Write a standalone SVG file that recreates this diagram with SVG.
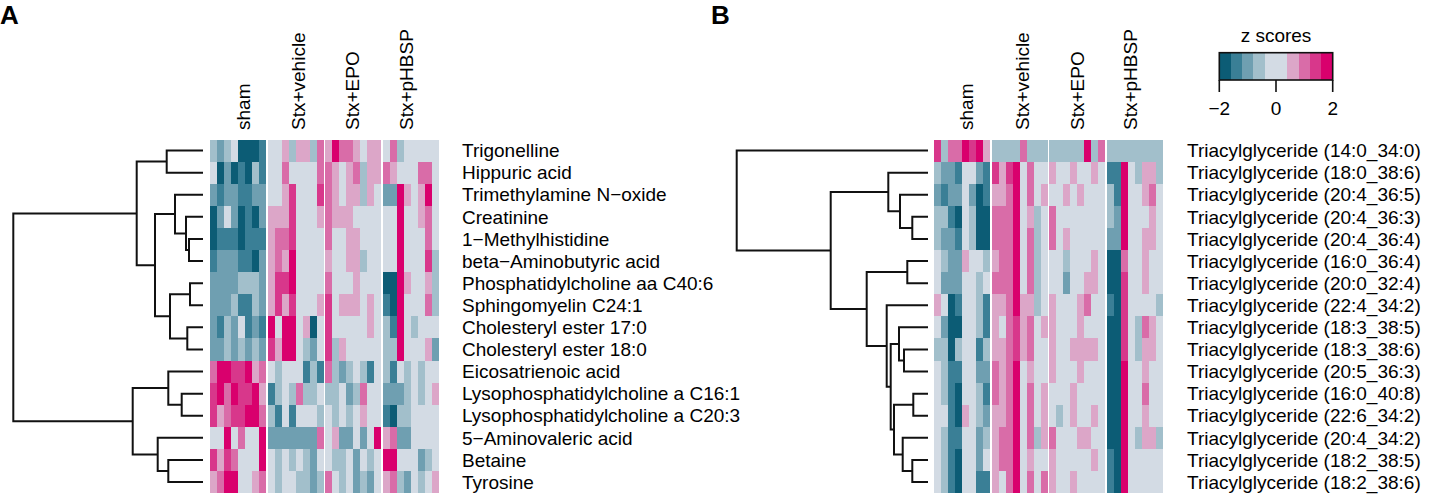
<svg xmlns="http://www.w3.org/2000/svg" width="1430" height="496" viewBox="0 0 1430 496">
<style>
text{font-family:"Liberation Sans",Arial,sans-serif;font-size:19px;fill:#000}
.pl{font-weight:bold;font-size:26px}
.h rect{shape-rendering:crispEdges}
.c1{fill:#0c5c75}.c2{fill:#3a7f96}.c3{fill:#6f9fb1}.c4{fill:#a2bfcb}.c5{fill:#d3dbe4}
.c6{fill:#dca6c8}.c7{fill:#d96ca8}.c8{fill:#d8378b}.c9{fill:#d9006d}
.dd path{fill:none;stroke:#111;stroke-width:2}
</style>
<rect width="1430" height="496" fill="#fff"/>
<text class="pl" x="0" y="24">A</text>
<text class="pl" x="711" y="24">B</text>

<g id="heatmap-A" class="h">
<g id="A-sham" transform="translate(210,139.5)">
<rect width="56" height="353.6" class="c5"/>
<rect x="0" y="0" width="7" height="22.1" class="c4"/><rect x="7" y="0" width="7" height="22.1" class="c3"/><rect x="14" y="0" width="7" height="22.1" class="c4"/><rect x="28" y="0" width="21" height="22.1" class="c1"/><rect x="49" y="0" width="7" height="22.1" class="c2"/>
<rect x="7" y="22.1" width="7" height="22.1" class="c1"/><rect x="14" y="22.1" width="7" height="22.1" class="c3"/><rect x="21" y="22.1" width="7" height="22.1" class="c1"/><rect x="28" y="22.1" width="7" height="22.1" class="c2"/><rect x="35" y="22.1" width="7" height="22.1" class="c1"/><rect x="42" y="22.1" width="7" height="22.1" class="c4"/><rect x="49" y="22.1" width="7" height="22.1" class="c2"/>
<rect x="0" y="44.2" width="7" height="22.1" class="c3"/><rect x="7" y="44.2" width="7" height="22.1" class="c2"/><rect x="14" y="44.2" width="14" height="22.1" class="c3"/><rect x="28" y="44.2" width="14" height="22.1" class="c2"/><rect x="42" y="44.2" width="14" height="22.1" class="c3"/>
<rect x="0" y="66.3" width="7" height="22.1" class="c1"/><rect x="7" y="66.3" width="7" height="22.1" class="c3"/><rect x="21" y="66.3" width="7" height="22.1" class="c3"/><rect x="28" y="66.3" width="7" height="22.1" class="c1"/><rect x="35" y="66.3" width="7" height="22.1" class="c2"/><rect x="42" y="66.3" width="7" height="22.1" class="c1"/><rect x="49" y="66.3" width="7" height="22.1" class="c3"/>
<rect x="0" y="88.4" width="7" height="22.1" class="c1"/><rect x="7" y="88.4" width="21" height="22.1" class="c2"/><rect x="28" y="88.4" width="7" height="22.1" class="c1"/><rect x="35" y="88.4" width="21" height="22.1" class="c2"/>
<rect x="0" y="110.5" width="7" height="22.1" class="c2"/><rect x="7" y="110.5" width="21" height="22.1" class="c3"/><rect x="28" y="110.5" width="14" height="22.1" class="c2"/><rect x="42" y="110.5" width="7" height="22.1" class="c1"/><rect x="49" y="110.5" width="7" height="22.1" class="c3"/>
<rect x="0" y="132.6" width="28" height="22.1" class="c3"/><rect x="28" y="132.6" width="21" height="22.1" class="c4"/><rect x="49" y="132.6" width="7" height="22.1" class="c3"/>
<rect x="0" y="154.7" width="21" height="22.1" class="c3"/><rect x="21" y="154.7" width="7" height="22.1" class="c4"/><rect x="28" y="154.7" width="14" height="22.1" class="c2"/><rect x="42" y="154.7" width="7" height="22.1" class="c4"/><rect x="49" y="154.7" width="7" height="22.1" class="c3"/>
<rect x="0" y="176.8" width="7" height="22.1" class="c3"/><rect x="7" y="176.8" width="7" height="22.1" class="c2"/><rect x="14" y="176.8" width="7" height="22.1" class="c4"/><rect x="21" y="176.8" width="7" height="22.1" class="c3"/><rect x="35" y="176.8" width="7" height="22.1" class="c2"/><rect x="42" y="176.8" width="7" height="22.1" class="c3"/><rect x="49" y="176.8" width="7" height="22.1" class="c2"/>
<rect x="0" y="198.9" width="14" height="22.1" class="c3"/><rect x="14" y="198.9" width="7" height="22.1" class="c4"/><rect x="21" y="198.9" width="7" height="22.1" class="c3"/><rect x="28" y="198.9" width="7" height="22.1" class="c4"/><rect x="35" y="198.9" width="7" height="22.1" class="c3"/><rect x="42" y="198.9" width="7" height="22.1" class="c4"/><rect x="49" y="198.9" width="7" height="22.1" class="c3"/>
<rect x="0" y="221" width="7" height="22.1" class="c7"/><rect x="7" y="221" width="14" height="22.1" class="c9"/><rect x="21" y="221" width="14" height="22.1" class="c8"/><rect x="35" y="221" width="7" height="22.1" class="c9"/><rect x="42" y="221" width="7" height="22.1" class="c6"/><rect x="49" y="221" width="7" height="22.1" class="c7"/>
<rect x="0" y="243.1" width="7" height="22.1" class="c8"/><rect x="7" y="243.1" width="7" height="22.1" class="c9"/><rect x="14" y="243.1" width="7" height="22.1" class="c7"/><rect x="21" y="243.1" width="7" height="22.1" class="c9"/><rect x="28" y="243.1" width="14" height="22.1" class="c8"/><rect x="42" y="243.1" width="7" height="22.1" class="c9"/><rect x="49" y="243.1" width="7" height="22.1" class="c6"/>
<rect x="0" y="265.2" width="7" height="22.1" class="c8"/><rect x="7" y="265.2" width="7" height="22.1" class="c6"/><rect x="14" y="265.2" width="7" height="22.1" class="c7"/><rect x="21" y="265.2" width="14" height="22.1" class="c8"/><rect x="35" y="265.2" width="14" height="22.1" class="c9"/><rect x="49" y="265.2" width="7" height="22.1" class="c7"/>
<rect x="14" y="287.3" width="7" height="22.1" class="c9"/><rect x="28" y="287.3" width="7" height="22.1" class="c7"/><rect x="49" y="287.3" width="7" height="22.1" class="c9"/>
<rect x="0" y="309.4" width="7" height="22.1" class="c8"/><rect x="7" y="309.4" width="7" height="22.1" class="c6"/><rect x="14" y="309.4" width="7" height="22.1" class="c8"/><rect x="21" y="309.4" width="7" height="22.1" class="c7"/><rect x="49" y="309.4" width="7" height="22.1" class="c9"/>
<rect x="0" y="331.5" width="7" height="22.1" class="c6"/><rect x="7" y="331.5" width="7" height="22.1" class="c7"/><rect x="14" y="331.5" width="14" height="22.1" class="c9"/><rect x="42" y="331.5" width="7" height="22.1" class="c6"/><rect x="49" y="331.5" width="7" height="22.1" class="c7"/>
</g>
<g id="A-vehicle" transform="translate(267.7,139.5)">
<rect width="56" height="353.6" class="c5"/>
<rect x="14" y="0" width="7" height="22.1" class="c6"/><rect x="21" y="0" width="7" height="22.1" class="c4"/><rect x="28" y="0" width="14" height="22.1" class="c6"/><rect x="42" y="0" width="7" height="22.1" class="c4"/><rect x="49" y="0" width="7" height="22.1" class="c7"/>
<rect x="14" y="22.1" width="7" height="22.1" class="c7"/><rect x="49" y="22.1" width="7" height="22.1" class="c7"/>
<rect x="14" y="44.2" width="7" height="22.1" class="c6"/><rect x="21" y="44.2" width="7" height="22.1" class="c8"/><rect x="49" y="44.2" width="7" height="22.1" class="c8"/>
<rect x="0" y="66.3" width="21" height="22.1" class="c6"/><rect x="21" y="66.3" width="7" height="22.1" class="c8"/><rect x="49" y="66.3" width="7" height="22.1" class="c6"/>
<rect x="0" y="88.4" width="7" height="22.1" class="c6"/><rect x="7" y="88.4" width="14" height="22.1" class="c7"/><rect x="21" y="88.4" width="7" height="22.1" class="c8"/>
<rect x="0" y="110.5" width="7" height="22.1" class="c6"/><rect x="7" y="110.5" width="7" height="22.1" class="c7"/><rect x="14" y="110.5" width="7" height="22.1" class="c6"/><rect x="21" y="110.5" width="7" height="22.1" class="c9"/>
<rect x="0" y="132.6" width="7" height="22.1" class="c6"/><rect x="7" y="132.6" width="14" height="22.1" class="c8"/><rect x="21" y="132.6" width="7" height="22.1" class="c9"/>
<rect x="0" y="154.7" width="7" height="22.1" class="c6"/><rect x="7" y="154.7" width="7" height="22.1" class="c8"/><rect x="14" y="154.7" width="7" height="22.1" class="c6"/><rect x="21" y="154.7" width="7" height="22.1" class="c8"/><rect x="49" y="154.7" width="7" height="22.1" class="c6"/>
<rect x="0" y="176.8" width="7" height="22.1" class="c9"/><rect x="14" y="176.8" width="14" height="22.1" class="c9"/><rect x="35" y="176.8" width="7" height="22.1" class="c6"/><rect x="42" y="176.8" width="7" height="22.1" class="c1"/>
<rect x="0" y="198.9" width="7" height="22.1" class="c8"/><rect x="7" y="198.9" width="7" height="22.1" class="c6"/><rect x="14" y="198.9" width="14" height="22.1" class="c9"/><rect x="35" y="198.9" width="7" height="22.1" class="c4"/><rect x="42" y="198.9" width="7" height="22.1" class="c3"/>
<rect x="7" y="221" width="7" height="22.1" class="c4"/><rect x="35" y="221" width="7" height="22.1" class="c2"/><rect x="42" y="221" width="7" height="22.1" class="c4"/><rect x="49" y="221" width="7" height="22.1" class="c2"/>
<rect x="0" y="243.1" width="7" height="22.1" class="c2"/><rect x="7" y="243.1" width="7" height="22.1" class="c4"/><rect x="21" y="243.1" width="7" height="22.1" class="c4"/><rect x="28" y="243.1" width="7" height="22.1" class="c7"/><rect x="35" y="243.1" width="14" height="22.1" class="c4"/>
<rect x="0" y="265.2" width="7" height="22.1" class="c4"/><rect x="7" y="265.2" width="7" height="22.1" class="c2"/><rect x="21" y="265.2" width="7" height="22.1" class="c2"/><rect x="49" y="265.2" width="7" height="22.1" class="c4"/>
<rect x="0" y="287.3" width="49" height="22.1" class="c3"/><rect x="49" y="287.3" width="7" height="22.1" class="c7"/>
<rect x="7" y="309.4" width="7" height="22.1" class="c4"/><rect x="21" y="309.4" width="7" height="22.1" class="c4"/><rect x="35" y="309.4" width="7" height="22.1" class="c4"/><rect x="42" y="309.4" width="7" height="22.1" class="c3"/>
<rect x="7" y="331.5" width="7" height="22.1" class="c4"/><rect x="28" y="331.5" width="14" height="22.1" class="c4"/><rect x="42" y="331.5" width="7" height="22.1" class="c3"/><rect x="49" y="331.5" width="7" height="22.1" class="c4"/>
</g>
<g id="A-EPO" transform="translate(325.4,139.5)">
<rect width="56" height="353.6" class="c5"/>
<rect x="0" y="0" width="7" height="22.1" class="c6"/><rect x="7" y="0" width="7" height="22.1" class="c9"/><rect x="14" y="0" width="14" height="22.1" class="c7"/><rect x="28" y="0" width="7" height="22.1" class="c6"/><rect x="42" y="0" width="14" height="22.1" class="c6"/>
<rect x="0" y="22.1" width="7" height="22.1" class="c7"/><rect x="7" y="22.1" width="7" height="22.1" class="c6"/><rect x="21" y="22.1" width="7" height="22.1" class="c6"/><rect x="28" y="22.1" width="7" height="22.1" class="c7"/><rect x="35" y="22.1" width="7" height="22.1" class="c4"/><rect x="42" y="22.1" width="14" height="22.1" class="c6"/>
<rect x="0" y="44.2" width="7" height="22.1" class="c7"/><rect x="7" y="44.2" width="7" height="22.1" class="c6"/><rect x="21" y="44.2" width="14" height="22.1" class="c6"/><rect x="35" y="44.2" width="7" height="22.1" class="c4"/><rect x="42" y="44.2" width="7" height="22.1" class="c6"/>
<rect x="0" y="66.3" width="7" height="22.1" class="c7"/><rect x="7" y="66.3" width="21" height="22.1" class="c6"/>
<rect x="0" y="88.4" width="7" height="22.1" class="c7"/><rect x="21" y="88.4" width="14" height="22.1" class="c6"/>
<rect x="0" y="110.5" width="7" height="22.1" class="c6"/><rect x="21" y="110.5" width="14" height="22.1" class="c6"/><rect x="35" y="110.5" width="7" height="22.1" class="c4"/>
<rect x="0" y="132.6" width="7" height="22.1" class="c7"/><rect x="28" y="132.6" width="7" height="22.1" class="c6"/>
<rect x="0" y="154.7" width="7" height="22.1" class="c8"/><rect x="14" y="154.7" width="21" height="22.1" class="c6"/><rect x="42" y="154.7" width="7" height="22.1" class="c6"/>
<rect x="0" y="176.8" width="7" height="22.1" class="c8"/><rect x="42" y="176.8" width="7" height="22.1" class="c6"/>
<rect x="0" y="198.9" width="7" height="22.1" class="c8"/><rect x="7" y="198.9" width="7" height="22.1" class="c4"/><rect x="14" y="198.9" width="7" height="22.1" class="c6"/>
<rect x="0" y="221" width="7" height="22.1" class="c7"/><rect x="7" y="221" width="7" height="22.1" class="c4"/><rect x="14" y="221" width="7" height="22.1" class="c3"/><rect x="21" y="221" width="7" height="22.1" class="c4"/><rect x="35" y="221" width="7" height="22.1" class="c4"/><rect x="42" y="221" width="7" height="22.1" class="c2"/>
<rect x="0" y="243.1" width="14" height="22.1" class="c4"/><rect x="21" y="243.1" width="7" height="22.1" class="c3"/><rect x="28" y="243.1" width="7" height="22.1" class="c4"/><rect x="35" y="243.1" width="7" height="22.1" class="c7"/>
<rect x="7" y="265.2" width="7" height="22.1" class="c4"/><rect x="21" y="265.2" width="7" height="22.1" class="c4"/><rect x="35" y="265.2" width="7" height="22.1" class="c6"/>
<rect x="7" y="287.3" width="7" height="22.1" class="c6"/><rect x="14" y="287.3" width="14" height="22.1" class="c3"/><rect x="35" y="287.3" width="7" height="22.1" class="c3"/><rect x="49" y="287.3" width="7" height="22.1" class="c9"/>
<rect x="7" y="309.4" width="14" height="22.1" class="c4"/><rect x="28" y="309.4" width="7" height="22.1" class="c3"/><rect x="42" y="309.4" width="7" height="22.1" class="c4"/>
<rect x="0" y="331.5" width="7" height="22.1" class="c7"/><rect x="14" y="331.5" width="7" height="22.1" class="c4"/><rect x="28" y="331.5" width="7" height="22.1" class="c3"/><rect x="35" y="331.5" width="7" height="22.1" class="c4"/><rect x="42" y="331.5" width="7" height="22.1" class="c3"/>
</g>
<g id="A-pHBSP" transform="translate(383.1,139.5)">
<rect width="56" height="353.6" class="c5"/>
<rect x="7" y="0" width="7" height="22.1" class="c7"/><rect x="14" y="0" width="7" height="22.1" class="c4"/>
<rect x="0" y="22.1" width="7" height="22.1" class="c7"/><rect x="7" y="22.1" width="7" height="22.1" class="c6"/><rect x="35" y="22.1" width="14" height="22.1" class="c7"/>
<rect x="0" y="44.2" width="14" height="22.1" class="c3"/><rect x="14" y="44.2" width="7" height="22.1" class="c9"/><rect x="21" y="44.2" width="7" height="22.1" class="c6"/><rect x="35" y="44.2" width="7" height="22.1" class="c6"/><rect x="42" y="44.2" width="7" height="22.1" class="c9"/>
<rect x="14" y="66.3" width="7" height="22.1" class="c9"/><rect x="35" y="66.3" width="7" height="22.1" class="c6"/><rect x="42" y="66.3" width="7" height="22.1" class="c7"/>
<rect x="14" y="88.4" width="7" height="22.1" class="c9"/><rect x="42" y="88.4" width="7" height="22.1" class="c7"/>
<rect x="14" y="110.5" width="7" height="22.1" class="c9"/><rect x="42" y="110.5" width="7" height="22.1" class="c8"/><rect x="49" y="110.5" width="7" height="22.1" class="c4"/>
<rect x="0" y="132.6" width="14" height="22.1" class="c1"/><rect x="14" y="132.6" width="7" height="22.1" class="c9"/><rect x="21" y="132.6" width="7" height="22.1" class="c6"/><rect x="42" y="132.6" width="7" height="22.1" class="c6"/><rect x="49" y="132.6" width="7" height="22.1" class="c4"/>
<rect x="0" y="154.7" width="7" height="22.1" class="c2"/><rect x="7" y="154.7" width="7" height="22.1" class="c1"/><rect x="14" y="154.7" width="7" height="22.1" class="c9"/><rect x="42" y="154.7" width="7" height="22.1" class="c7"/><rect x="49" y="154.7" width="7" height="22.1" class="c4"/>
<rect x="0" y="176.8" width="7" height="22.1" class="c4"/><rect x="7" y="176.8" width="7" height="22.1" class="c2"/><rect x="14" y="176.8" width="7" height="22.1" class="c9"/><rect x="28" y="176.8" width="7" height="22.1" class="c4"/>
<rect x="0" y="198.9" width="14" height="22.1" class="c4"/><rect x="14" y="198.9" width="7" height="22.1" class="c9"/><rect x="42" y="198.9" width="7" height="22.1" class="c6"/><rect x="49" y="198.9" width="7" height="22.1" class="c3"/>
<rect x="0" y="221" width="7" height="22.1" class="c4"/><rect x="7" y="221" width="7" height="22.1" class="c2"/><rect x="21" y="221" width="7" height="22.1" class="c4"/><rect x="35" y="221" width="7" height="22.1" class="c4"/>
<rect x="0" y="243.1" width="21" height="22.1" class="c3"/><rect x="21" y="243.1" width="7" height="22.1" class="c4"/><rect x="35" y="243.1" width="7" height="22.1" class="c4"/><rect x="49" y="243.1" width="7" height="22.1" class="c6"/>
<rect x="0" y="265.2" width="7" height="22.1" class="c2"/><rect x="7" y="265.2" width="7" height="22.1" class="c1"/><rect x="14" y="265.2" width="14" height="22.1" class="c4"/>
<rect x="0" y="287.3" width="7" height="22.1" class="c6"/><rect x="7" y="287.3" width="7" height="22.1" class="c7"/><rect x="14" y="287.3" width="14" height="22.1" class="c3"/>
<rect x="0" y="309.4" width="14" height="22.1" class="c9"/><rect x="35" y="309.4" width="7" height="22.1" class="c3"/><rect x="42" y="309.4" width="7" height="22.1" class="c4"/>
<rect x="0" y="331.5" width="7" height="22.1" class="c6"/><rect x="7" y="331.5" width="7" height="22.1" class="c7"/><rect x="14" y="331.5" width="7" height="22.1" class="c4"/><rect x="21" y="331.5" width="7" height="22.1" class="c3"/><rect x="35" y="331.5" width="7" height="22.1" class="c4"/><rect x="49" y="331.5" width="7" height="22.1" class="c6"/>
</g>
</g>

<g id="heatmap-B" class="h">
<g id="B-sham" transform="translate(934,139.5)">
<rect width="56" height="353.6" class="c5"/>
<rect x="0" y="0" width="7" height="22.1" class="c8"/><rect x="7" y="0" width="7" height="22.1" class="c4"/><rect x="14" y="0" width="14" height="22.1" class="c7"/><rect x="28" y="0" width="7" height="22.1" class="c9"/><rect x="35" y="0" width="7" height="22.1" class="c8"/><rect x="42" y="0" width="7" height="22.1" class="c9"/><rect x="49" y="0" width="7" height="22.1" class="c6"/>
<rect x="0" y="22.1" width="7" height="22.1" class="c4"/><rect x="7" y="22.1" width="14" height="22.1" class="c3"/><rect x="21" y="22.1" width="7" height="22.1" class="c2"/><rect x="42" y="22.1" width="7" height="22.1" class="c3"/><rect x="49" y="22.1" width="7" height="22.1" class="c2"/>
<rect x="0" y="44.2" width="7" height="22.1" class="c3"/><rect x="7" y="44.2" width="7" height="22.1" class="c2"/><rect x="14" y="44.2" width="14" height="22.1" class="c3"/><rect x="35" y="44.2" width="7" height="22.1" class="c3"/><rect x="42" y="44.2" width="7" height="22.1" class="c1"/><rect x="49" y="44.2" width="7" height="22.1" class="c2"/>
<rect x="0" y="66.3" width="14" height="22.1" class="c4"/><rect x="14" y="66.3" width="7" height="22.1" class="c2"/><rect x="21" y="66.3" width="7" height="22.1" class="c1"/><rect x="35" y="66.3" width="7" height="22.1" class="c4"/><rect x="42" y="66.3" width="14" height="22.1" class="c1"/>
<rect x="0" y="88.4" width="7" height="22.1" class="c4"/><rect x="7" y="88.4" width="14" height="22.1" class="c3"/><rect x="21" y="88.4" width="7" height="22.1" class="c2"/><rect x="35" y="88.4" width="7" height="22.1" class="c4"/><rect x="42" y="88.4" width="14" height="22.1" class="c1"/>
<rect x="7" y="110.5" width="7" height="22.1" class="c4"/><rect x="14" y="110.5" width="14" height="22.1" class="c3"/><rect x="28" y="110.5" width="7" height="22.1" class="c6"/><rect x="49" y="110.5" width="7" height="22.1" class="c4"/>
<rect x="7" y="132.6" width="21" height="22.1" class="c3"/><rect x="42" y="132.6" width="7" height="22.1" class="c4"/>
<rect x="0" y="154.7" width="7" height="22.1" class="c6"/><rect x="14" y="154.7" width="7" height="22.1" class="c1"/><rect x="21" y="154.7" width="7" height="22.1" class="c2"/><rect x="42" y="154.7" width="7" height="22.1" class="c4"/><rect x="49" y="154.7" width="7" height="22.1" class="c2"/>
<rect x="7" y="176.8" width="7" height="22.1" class="c3"/><rect x="14" y="176.8" width="14" height="22.1" class="c1"/><rect x="42" y="176.8" width="7" height="22.1" class="c4"/><rect x="49" y="176.8" width="7" height="22.1" class="c2"/>
<rect x="0" y="198.9" width="14" height="22.1" class="c4"/><rect x="14" y="198.9" width="7" height="22.1" class="c1"/><rect x="21" y="198.9" width="7" height="22.1" class="c4"/><rect x="42" y="198.9" width="7" height="22.1" class="c2"/><rect x="49" y="198.9" width="7" height="22.1" class="c4"/>
<rect x="7" y="221" width="7" height="22.1" class="c4"/><rect x="14" y="221" width="14" height="22.1" class="c2"/><rect x="42" y="221" width="14" height="22.1" class="c3"/>
<rect x="7" y="243.1" width="7" height="22.1" class="c4"/><rect x="14" y="243.1" width="7" height="22.1" class="c2"/><rect x="21" y="243.1" width="7" height="22.1" class="c1"/><rect x="42" y="243.1" width="7" height="22.1" class="c4"/><rect x="49" y="243.1" width="7" height="22.1" class="c2"/>
<rect x="14" y="265.2" width="7" height="22.1" class="c2"/><rect x="21" y="265.2" width="7" height="22.1" class="c1"/><rect x="28" y="265.2" width="7" height="22.1" class="c6"/><rect x="42" y="265.2" width="7" height="22.1" class="c4"/><rect x="49" y="265.2" width="7" height="22.1" class="c3"/>
<rect x="7" y="287.3" width="7" height="22.1" class="c4"/><rect x="14" y="287.3" width="14" height="22.1" class="c2"/><rect x="42" y="287.3" width="7" height="22.1" class="c3"/><rect x="49" y="287.3" width="7" height="22.1" class="c4"/>
<rect x="7" y="309.4" width="7" height="22.1" class="c4"/><rect x="14" y="309.4" width="7" height="22.1" class="c2"/><rect x="21" y="309.4" width="7" height="22.1" class="c1"/><rect x="42" y="309.4" width="7" height="22.1" class="c3"/>
<rect x="7" y="331.5" width="7" height="22.1" class="c4"/><rect x="14" y="331.5" width="7" height="22.1" class="c2"/><rect x="21" y="331.5" width="7" height="22.1" class="c1"/><rect x="42" y="331.5" width="14" height="22.1" class="c2"/>
</g>
<g id="B-vehicle" transform="translate(991.6,139.5)">
<rect width="56" height="353.6" class="c5"/>
<rect x="0" y="0" width="28" height="22.1" class="c4"/><rect x="28" y="0" width="7" height="22.1" class="c7"/><rect x="35" y="0" width="21" height="22.1" class="c4"/>
<rect x="0" y="22.1" width="7" height="22.1" class="c8"/><rect x="7" y="22.1" width="7" height="22.1" class="c6"/><rect x="14" y="22.1" width="7" height="22.1" class="c8"/><rect x="21" y="22.1" width="7" height="22.1" class="c9"/><rect x="35" y="22.1" width="7" height="22.1" class="c7"/>
<rect x="0" y="44.2" width="14" height="22.1" class="c6"/><rect x="14" y="44.2" width="7" height="22.1" class="c7"/><rect x="21" y="44.2" width="7" height="22.1" class="c9"/><rect x="35" y="44.2" width="7" height="22.1" class="c7"/><rect x="49" y="44.2" width="7" height="22.1" class="c6"/>
<rect x="0" y="66.3" width="21" height="22.1" class="c7"/><rect x="21" y="66.3" width="7" height="22.1" class="c9"/><rect x="35" y="66.3" width="7" height="22.1" class="c6"/><rect x="42" y="66.3" width="7" height="22.1" class="c4"/>
<rect x="0" y="88.4" width="21" height="22.1" class="c7"/><rect x="21" y="88.4" width="7" height="22.1" class="c9"/><rect x="35" y="88.4" width="7" height="22.1" class="c7"/><rect x="42" y="88.4" width="7" height="22.1" class="c4"/>
<rect x="0" y="110.5" width="7" height="22.1" class="c6"/><rect x="7" y="110.5" width="14" height="22.1" class="c7"/><rect x="21" y="110.5" width="7" height="22.1" class="c9"/><rect x="35" y="110.5" width="7" height="22.1" class="c7"/><rect x="42" y="110.5" width="7" height="22.1" class="c4"/>
<rect x="0" y="132.6" width="21" height="22.1" class="c7"/><rect x="21" y="132.6" width="7" height="22.1" class="c9"/><rect x="35" y="132.6" width="7" height="22.1" class="c7"/><rect x="42" y="132.6" width="7" height="22.1" class="c4"/>
<rect x="0" y="154.7" width="14" height="22.1" class="c6"/><rect x="14" y="154.7" width="7" height="22.1" class="c7"/><rect x="21" y="154.7" width="7" height="22.1" class="c9"/><rect x="28" y="154.7" width="14" height="22.1" class="c6"/><rect x="42" y="154.7" width="7" height="22.1" class="c4"/>
<rect x="0" y="176.8" width="7" height="22.1" class="c6"/><rect x="14" y="176.8" width="7" height="22.1" class="c7"/><rect x="21" y="176.8" width="7" height="22.1" class="c8"/><rect x="28" y="176.8" width="7" height="22.1" class="c6"/><rect x="35" y="176.8" width="7" height="22.1" class="c7"/><rect x="49" y="176.8" width="7" height="22.1" class="c6"/>
<rect x="0" y="198.9" width="14" height="22.1" class="c6"/><rect x="14" y="198.9" width="7" height="22.1" class="c7"/><rect x="21" y="198.9" width="7" height="22.1" class="c8"/><rect x="28" y="198.9" width="7" height="22.1" class="c6"/><rect x="35" y="198.9" width="7" height="22.1" class="c7"/>
<rect x="0" y="221" width="7" height="22.1" class="c7"/><rect x="7" y="221" width="7" height="22.1" class="c6"/><rect x="14" y="221" width="7" height="22.1" class="c7"/><rect x="21" y="221" width="7" height="22.1" class="c9"/><rect x="35" y="221" width="7" height="22.1" class="c6"/>
<rect x="0" y="243.1" width="7" height="22.1" class="c7"/><rect x="7" y="243.1" width="7" height="22.1" class="c6"/><rect x="14" y="243.1" width="7" height="22.1" class="c7"/><rect x="21" y="243.1" width="7" height="22.1" class="c9"/><rect x="35" y="243.1" width="7" height="22.1" class="c7"/><rect x="49" y="243.1" width="7" height="22.1" class="c6"/>
<rect x="0" y="265.2" width="14" height="22.1" class="c6"/><rect x="14" y="265.2" width="7" height="22.1" class="c7"/><rect x="21" y="265.2" width="7" height="22.1" class="c9"/><rect x="35" y="265.2" width="7" height="22.1" class="c7"/><rect x="49" y="265.2" width="7" height="22.1" class="c6"/>
<rect x="0" y="287.3" width="7" height="22.1" class="c6"/><rect x="7" y="287.3" width="14" height="22.1" class="c7"/><rect x="21" y="287.3" width="7" height="22.1" class="c9"/><rect x="35" y="287.3" width="7" height="22.1" class="c7"/><rect x="42" y="287.3" width="7" height="22.1" class="c4"/><rect x="49" y="287.3" width="7" height="22.1" class="c6"/>
<rect x="0" y="309.4" width="7" height="22.1" class="c6"/><rect x="7" y="309.4" width="14" height="22.1" class="c7"/><rect x="21" y="309.4" width="7" height="22.1" class="c9"/><rect x="35" y="309.4" width="7" height="22.1" class="c6"/>
<rect x="0" y="331.5" width="7" height="22.1" class="c6"/><rect x="14" y="331.5" width="7" height="22.1" class="c7"/><rect x="21" y="331.5" width="7" height="22.1" class="c9"/><rect x="35" y="331.5" width="7" height="22.1" class="c7"/><rect x="49" y="331.5" width="7" height="22.1" class="c7"/>
</g>
<g id="B-EPO" transform="translate(1049.2,139.5)">
<rect width="56" height="353.6" class="c5"/>
<rect x="0" y="0" width="35" height="22.1" class="c4"/><rect x="35" y="0" width="7" height="22.1" class="c9"/><rect x="42" y="0" width="7" height="22.1" class="c4"/><rect x="49" y="0" width="7" height="22.1" class="c7"/>
<rect x="0" y="22.1" width="7" height="22.1" class="c6"/><rect x="21" y="22.1" width="7" height="22.1" class="c6"/><rect x="42" y="22.1" width="7" height="22.1" class="c6"/>
<rect x="14" y="44.2" width="7" height="22.1" class="c6"/><rect x="28" y="44.2" width="7" height="22.1" class="c6"/>
<rect x="0" y="66.3" width="7" height="22.1" class="c7"/>
<rect x="0" y="88.4" width="7" height="22.1" class="c7"/><rect x="14" y="88.4" width="7" height="22.1" class="c6"/>
<rect x="14" y="110.5" width="7" height="22.1" class="c4"/><rect x="42" y="110.5" width="7" height="22.1" class="c6"/>
<rect x="14" y="132.6" width="7" height="22.1" class="c3"/><rect x="35" y="132.6" width="14" height="22.1" class="c6"/>
<rect x="0" y="154.7" width="7" height="22.1" class="c6"/><rect x="28" y="154.7" width="7" height="22.1" class="c6"/><rect x="35" y="154.7" width="7" height="22.1" class="c7"/>
<rect x="0" y="176.8" width="7" height="22.1" class="c6"/><rect x="28" y="176.8" width="7" height="22.1" class="c6"/>
<rect x="0" y="198.9" width="7" height="22.1" class="c6"/><rect x="21" y="198.9" width="28" height="22.1" class="c6"/>
<rect x="0" y="221" width="7" height="22.1" class="c6"/><rect x="28" y="221" width="7" height="22.1" class="c6"/>
<rect x="21" y="243.1" width="7" height="22.1" class="c6"/>
<rect x="7" y="265.2" width="7" height="22.1" class="c4"/><rect x="21" y="265.2" width="7" height="22.1" class="c6"/><rect x="42" y="265.2" width="7" height="22.1" class="c6"/>
<rect x="0" y="287.3" width="7" height="22.1" class="c7"/><rect x="28" y="287.3" width="14" height="22.1" class="c6"/>
<rect x="0" y="309.4" width="7" height="22.1" class="c6"/><rect x="42" y="309.4" width="7" height="22.1" class="c6"/>
<rect x="0" y="331.5" width="7" height="22.1" class="c6"/><rect x="21" y="331.5" width="7" height="22.1" class="c6"/>
</g>
<g id="B-pHBSP" transform="translate(1106.8,139.5)">
<rect width="56" height="353.6" class="c5"/>
<rect x="0" y="0" width="56" height="22.1" class="c4"/>
<rect x="0" y="22.1" width="14" height="22.1" class="c2"/><rect x="14" y="22.1" width="7" height="22.1" class="c9"/><rect x="28" y="22.1" width="7" height="22.1" class="c4"/><rect x="35" y="22.1" width="14" height="22.1" class="c6"/><rect x="49" y="22.1" width="7" height="22.1" class="c4"/>
<rect x="0" y="44.2" width="7" height="22.1" class="c4"/><rect x="7" y="44.2" width="7" height="22.1" class="c2"/><rect x="14" y="44.2" width="7" height="22.1" class="c9"/><rect x="35" y="44.2" width="7" height="22.1" class="c6"/><rect x="42" y="44.2" width="7" height="22.1" class="c7"/>
<rect x="0" y="66.3" width="7" height="22.1" class="c4"/><rect x="7" y="66.3" width="7" height="22.1" class="c3"/><rect x="14" y="66.3" width="7" height="22.1" class="c9"/><rect x="42" y="66.3" width="7" height="22.1" class="c6"/>
<rect x="0" y="88.4" width="14" height="22.1" class="c3"/><rect x="14" y="88.4" width="7" height="22.1" class="c9"/><rect x="35" y="88.4" width="14" height="22.1" class="c6"/>
<rect x="0" y="110.5" width="14" height="22.1" class="c1"/><rect x="14" y="110.5" width="7" height="22.1" class="c7"/><rect x="35" y="110.5" width="7" height="22.1" class="c6"/>
<rect x="0" y="132.6" width="14" height="22.1" class="c1"/><rect x="14" y="132.6" width="7" height="22.1" class="c8"/><rect x="35" y="132.6" width="7" height="22.1" class="c6"/>
<rect x="0" y="154.7" width="7" height="22.1" class="c2"/><rect x="7" y="154.7" width="7" height="22.1" class="c1"/><rect x="14" y="154.7" width="7" height="22.1" class="c8"/><rect x="49" y="154.7" width="7" height="22.1" class="c4"/>
<rect x="0" y="176.8" width="14" height="22.1" class="c1"/><rect x="14" y="176.8" width="7" height="22.1" class="c8"/><rect x="28" y="176.8" width="7" height="22.1" class="c4"/><rect x="35" y="176.8" width="7" height="22.1" class="c7"/><rect x="42" y="176.8" width="7" height="22.1" class="c6"/>
<rect x="0" y="198.9" width="14" height="22.1" class="c1"/><rect x="14" y="198.9" width="7" height="22.1" class="c8"/><rect x="28" y="198.9" width="7" height="22.1" class="c4"/><rect x="35" y="198.9" width="14" height="22.1" class="c6"/>
<rect x="0" y="221" width="14" height="22.1" class="c1"/><rect x="14" y="221" width="7" height="22.1" class="c9"/><rect x="35" y="221" width="7" height="22.1" class="c6"/>
<rect x="0" y="243.1" width="14" height="22.1" class="c1"/><rect x="14" y="243.1" width="7" height="22.1" class="c9"/><rect x="35" y="243.1" width="7" height="22.1" class="c7"/>
<rect x="0" y="265.2" width="14" height="22.1" class="c1"/><rect x="14" y="265.2" width="7" height="22.1" class="c9"/><rect x="35" y="265.2" width="7" height="22.1" class="c6"/>
<rect x="0" y="287.3" width="14" height="22.1" class="c1"/><rect x="14" y="287.3" width="7" height="22.1" class="c9"/><rect x="28" y="287.3" width="7" height="22.1" class="c4"/><rect x="35" y="287.3" width="14" height="22.1" class="c6"/><rect x="49" y="287.3" width="7" height="22.1" class="c4"/>
<rect x="0" y="309.4" width="7" height="22.1" class="c2"/><rect x="7" y="309.4" width="7" height="22.1" class="c1"/><rect x="14" y="309.4" width="7" height="22.1" class="c9"/>
<rect x="0" y="331.5" width="7" height="22.1" class="c2"/><rect x="7" y="331.5" width="7" height="22.1" class="c1"/><rect x="14" y="331.5" width="7" height="22.1" class="c9"/>
</g>
</g>

<g id="connectors" class="dd">
<g id="dendrogram-A">
<path d="M203 150.55 H166.7 V172.65 H203"/>
<path d="M203 238.95 H189 V261.05 H203"/>
<path d="M203 216.85 H186 V250 H189"/>
<path d="M203 194.75 H175 V233.4 H186"/>
<path d="M203 283.15 H190 V305.25 H203"/>
<path d="M203 327.35 H187.3 V349.45 H203"/>
<path d="M190 294.2 H170 V338.4 H187.3"/>
<path d="M175 214.1 H155 V316.3 H170"/>
<path d="M166.7 161.6 H136.7 V265.2 H155"/>
<path d="M203 393.65 H181.7 V415.75 H203"/>
<path d="M203 371.55 H168.3 V404.7 H181.7"/>
<path d="M203 459.95 H168.3 V482.05 H203"/>
<path d="M203 437.85 H157.7 V471 H168.3"/>
<path d="M168.3 388.1 H132.7 V454.4 H157.7"/>
<path d="M136.7 213.4 H13.3 V421.3 H132.7"/>
</g>
<g id="dendrogram-B">
<path d="M928 216.85 H912.3 V238.95 H928"/>
<path d="M928 194.75 H900 V227.9 H912.3"/>
<path d="M928 172.65 H888.3 V211.3 H900"/>
<path d="M928 261.05 H907.3 V283.15 H928"/>
<path d="M928 349.45 H904 V371.55 H928"/>
<path d="M928 327.35 H899 V360.5 H904"/>
<path d="M928 393.65 H913.3 V415.75 H928"/>
<path d="M928 459.95 H912.3 V482.05 H928"/>
<path d="M928 437.85 H902.7 V471 H912.3"/>
<path d="M913.3 404.7 H894 V454.4 H902.7"/>
<path d="M899 343.9 H890.7 V429.6 H894"/>
<path d="M928 305.25 H886.7 V386.8 H890.7"/>
<path d="M907.3 272.1 H866.7 V346 H886.7"/>
<path d="M888.3 192 H830.7 V309.1 H866.7"/>
<path d="M928 150.55 H736.7 V250.6 H830.7"/>
</g>
</g>

<g id="col-labels-A">
<text transform="translate(250,130) rotate(-90)">sham</text>
<text transform="translate(304.5,130) rotate(-90)">Stx+vehicle</text>
<text transform="translate(358.5,130) rotate(-90)">Stx+EPO</text>
<text transform="translate(412.5,130) rotate(-90)">Stx+pHBSP</text>
</g>
<g id="col-labels-B">
<text transform="translate(972.5,130) rotate(-90)">sham</text>
<text transform="translate(1028.5,130) rotate(-90)">Stx+vehicle</text>
<text transform="translate(1083.5,130) rotate(-90)">Stx+EPO</text>
<text transform="translate(1137,130) rotate(-90)">Stx+pHBSP</text>
</g>

<g id="row-labels-A">
<text x="462" y="157.2">Trigonelline</text>
<text x="462" y="179.3">Hippuric acid</text>
<text x="462" y="201.4">Trimethylamine N−oxide</text>
<text x="462" y="223.5">Creatinine</text>
<text x="462" y="245.6">1−Methylhistidine</text>
<text x="462" y="267.7">beta−Aminobutyric acid</text>
<text x="462" y="289.8">Phosphatidylcholine aa C40:6</text>
<text x="462" y="311.9">Sphingomyelin C24:1</text>
<text x="462" y="334">Cholesteryl ester 17:0</text>
<text x="462" y="356.1">Cholesteryl ester 18:0</text>
<text x="462" y="378.2">Eicosatrienoic acid</text>
<text x="462" y="400.3">Lysophosphatidylcholine a C16:1</text>
<text x="462" y="422.4">Lysophosphatidylcholine a C20:3</text>
<text x="462" y="444.5">5−Aminovaleric acid</text>
<text x="462" y="466.6">Betaine</text>
<text x="462" y="488.7">Tyrosine</text>
</g>
<g id="row-labels-B">
<text x="1187" y="157.2">Triacylglyceride (14:0_34:0)</text>
<text x="1187" y="179.3">Triacylglyceride (18:0_38:6)</text>
<text x="1187" y="201.4">Triacylglyceride (20:4_36:5)</text>
<text x="1187" y="223.5">Triacylglyceride (20:4_36:3)</text>
<text x="1187" y="245.6">Triacylglyceride (20:4_36:4)</text>
<text x="1187" y="267.7">Triacylglyceride (16:0_36:4)</text>
<text x="1187" y="289.8">Triacylglyceride (20:0_32:4)</text>
<text x="1187" y="311.9">Triacylglyceride (22:4_34:2)</text>
<text x="1187" y="334">Triacylglyceride (18:3_38:5)</text>
<text x="1187" y="356.1">Triacylglyceride (18:3_38:6)</text>
<text x="1187" y="378.2">Triacylglyceride (20:5_36:3)</text>
<text x="1187" y="400.3">Triacylglyceride (16:0_40:8)</text>
<text x="1187" y="422.4">Triacylglyceride (22:6_34:2)</text>
<text x="1187" y="444.5">Triacylglyceride (20:4_34:2)</text>
<text x="1187" y="466.6">Triacylglyceride (18:2_38:5)</text>
<text x="1187" y="488.7">Triacylglyceride (18:2_38:6)</text>
</g>

<g id="legend">
<text x="1276" y="42" text-anchor="middle">z scores</text>
<g class="h">
<rect x="1219.3" y="52.7" width="11.4" height="27.3" class="c1"/>
<rect x="1230.6" y="52.7" width="11.4" height="27.3" class="c2"/>
<rect x="1242" y="52.7" width="11.4" height="27.3" class="c3"/>
<rect x="1253.3" y="52.7" width="11.4" height="27.3" class="c4"/>
<rect x="1264.7" y="52.7" width="22.7" height="27.3" class="c5"/>
<rect x="1287.4" y="52.7" width="11.4" height="27.3" class="c6"/>
<rect x="1298.7" y="52.7" width="11.4" height="27.3" class="c7"/>
<rect x="1310" y="52.7" width="11.4" height="27.3" class="c8"/>
<rect x="1321.4" y="52.7" width="11.3" height="27.3" class="c9"/>
</g>
<rect x="1219.3" y="52.7" width="113.4" height="27.3" fill="none" stroke="#111" stroke-width="1.6"/>
<path d="M1219.3 80 V92 M1276 80 V92 M1332.7 80 V92" fill="none" stroke="#111" stroke-width="1.6"/>
<text x="1219.3" y="115" text-anchor="middle">−2</text>
<text x="1276" y="115" text-anchor="middle">0</text>
<text x="1332.7" y="115" text-anchor="middle">2</text>
</g>
</svg>
